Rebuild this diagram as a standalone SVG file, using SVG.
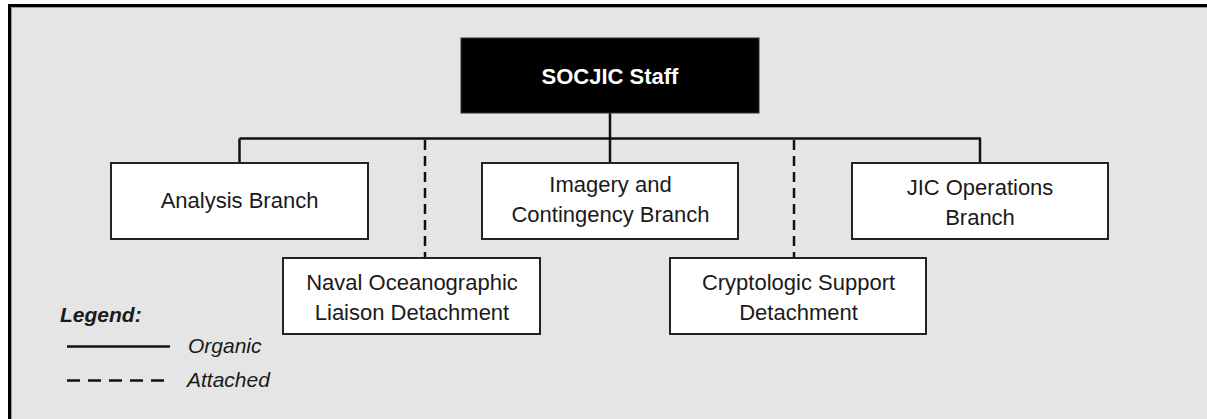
<svg xmlns="http://www.w3.org/2000/svg" width="1207" height="419" viewBox="0 0 1207 419">
<style>
.box{fill:#ffffff;stroke:#222;stroke-width:2}
.t{font-family:"Liberation Sans",Arial,sans-serif;font-size:22px;fill:#1a1a1a;text-anchor:middle}
.org{fill:none;stroke:#111;stroke-width:2.5}
.att{fill:none;stroke:#111;stroke-width:2.5;stroke-dasharray:10 6}
.lg{font-family:"Liberation Sans",Arial,sans-serif;font-size:21px;font-style:italic;fill:#1a1a1a}
</style>
<rect x="0" y="0" width="1207" height="419" fill="#ffffff"/>
<rect x="9.5" y="5.5" width="1210" height="430" fill="#e5e5e5" stroke="#000" stroke-width="3"/>
<path d="M11.5 7.5V419M11.5 7.5H1207" fill="none" stroke="#9a9a9a" stroke-width="1"/>
<g id="connectors">
<path class="org" d="M610 113V138.5M239.5 138.5H981M239.5 138.5V163M610 138.5V163M980 138.5V163"/>
<path class="att" d="M425 140V258M794 140V258"/>
</g>
<g id="socjic-staff">
<rect x="461" y="38" width="298" height="75" fill="#000" stroke="#333" stroke-width="1"/>
<text x="610" y="84" class="t" style="fill:#fff;font-weight:bold">SOCJIC Staff</text>
</g>
<g id="analysis-branch">
<rect class="box" x="111" y="163" width="257" height="76"/>
<text x="239.5" y="208" class="t">Analysis Branch</text>
</g>
<g id="imagery-branch">
<rect class="box" x="482" y="163" width="256" height="76"/>
<text x="610.5" y="192" class="t">Imagery and</text>
<text x="610.5" y="222" class="t">Contingency Branch</text>
</g>
<g id="jic-operations-branch">
<rect class="box" x="852" y="163" width="256" height="76"/>
<text x="980" y="195" class="t">JIC Operations</text>
<text x="980" y="225" class="t">Branch</text>
</g>
<g id="naval-detachment">
<rect class="box" x="283" y="258" width="257" height="76"/>
<text x="412" y="290" class="t">Naval Oceanographic</text>
<text x="412" y="320" class="t">Liaison Detachment</text>
</g>
<g id="cryptologic-detachment">
<rect class="box" x="670" y="258" width="256" height="76"/>
<text x="798.5" y="290" class="t">Cryptologic Support</text>
<text x="798.5" y="320" class="t">Detachment</text>
</g>
<g id="legend">
<text x="60" y="322" class="lg" style="font-weight:bold">Legend:</text>
<line x1="67" y1="346.5" x2="170" y2="346.5" stroke="#111" stroke-width="2.7"/>
<text x="188" y="353" class="lg">Organic</text>
<line x1="67" y1="380.5" x2="166" y2="380.5" stroke="#111" stroke-width="2.7" stroke-dasharray="13 8"/>
<text x="187" y="387" class="lg">Attached</text>
</g>
</svg>
